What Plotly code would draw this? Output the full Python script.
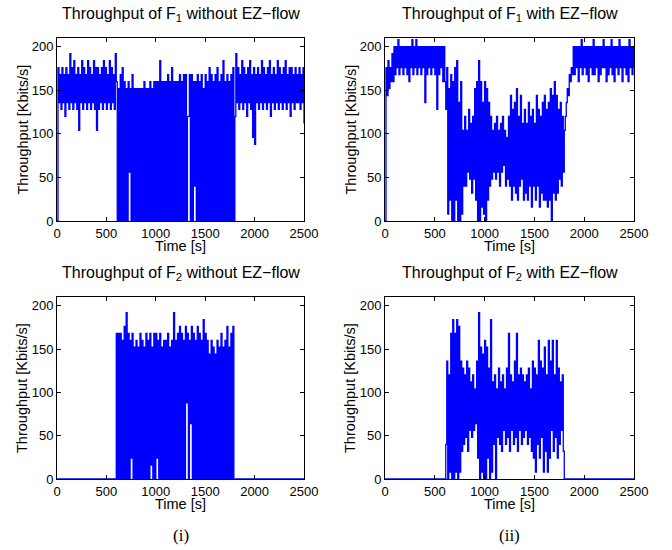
import plotly.graph_objects as go

# time axis (s), one sample every 10 s
time_s = list(range(0, 2501, 10))

f1_without = [
    0, 176, 136, 168, 128, 176, 136, 168, 120, 176,
    136, 168, 128, 192, 136, 176, 128, 184, 136, 168,
    128, 176, 104, 168, 136, 184, 128, 176, 136, 168,
    128, 184, 136, 176, 128, 168, 136, 184, 128, 176,
    104, 176, 128, 168, 136, 176, 128, 184, 136, 176,
    128, 168, 136, 184, 128, 176, 136, 168, 128, 192,
    160, 0, 152, 0, 168, 0, 176, 0, 160, 0,
    152, 0, 160, 56, 152, 0, 168, 0, 152, 0,
    152, 0, 152, 0, 152, 0, 152, 0, 160, 0,
    152, 0, 152, 0, 160, 0, 152, 0, 160, 0,
    160, 0, 160, 0, 184, 0, 160, 0, 160, 0,
    160, 0, 168, 0, 160, 0, 176, 0, 160, 0,
    160, 0, 160, 0, 168, 0, 160, 0, 168, 0,
    168, 0, 120, 120, 168, 0, 168, 0, 160, 40,
    160, 0, 168, 0, 160, 0, 168, 0, 152, 0,
    168, 0, 160, 0, 176, 0, 168, 0, 160, 0,
    168, 0, 176, 0, 160, 0, 168, 0, 184, 0,
    160, 0, 168, 0, 160, 0, 168, 0, 176, 0,
    120, 192, 136, 176, 128, 168, 136, 184, 128, 176,
    136, 168, 120, 176, 136, 184, 128, 168, 96, 176,
    88, 168, 136, 176, 128, 168, 136, 184, 128, 176,
    136, 168, 128, 176, 136, 184, 120, 168, 136, 176,
    128, 168, 136, 184, 128, 176, 136, 168, 128, 176,
    136, 184, 128, 168, 136, 176, 120, 176, 136, 168,
    128, 176, 136, 168, 136, 176, 128, 168, 136, 176,
    112,
]

f1_with = [
    0, 176, 144, 184, 152, 176, 160, 192, 160, 200,
    168, 200, 176, 208, 168, 200, 176, 200, 168, 200,
    176, 200, 168, 200, 160, 200, 176, 208, 168, 200,
    176, 208, 168, 200, 176, 200, 168, 200, 176, 200,
    136, 200, 168, 200, 176, 200, 168, 200, 176, 200,
    168, 200, 128, 200, 168, 200, 176, 200, 160, 200,
    160, 128, 176, 8, 152, 24, 168, 0, 160, 0,
    176, 24, 184, 0, 136, 0, 160, 8, 104, 40,
    120, 40, 104, 56, 128, 48, 112, 32, 120, 48,
    152, 24, 160, 0, 184, 0, 160, 16, 136, 8,
    160, 0, 152, 24, 136, 40, 120, 48, 104, 56,
    112, 48, 120, 56, 104, 40, 112, 56, 120, 64,
    104, 40, 96, 48, 120, 40, 144, 24, 128, 40,
    136, 32, 152, 24, 120, 40, 144, 48, 112, 24,
    128, 32, 112, 24, 136, 40, 120, 16, 128, 40,
    112, 24, 144, 40, 128, 16, 120, 32, 136, 24,
    144, 24, 128, 16, 136, 24, 152, 0, 144, 32,
    160, 24, 144, 32, 128, 48, 136, 40, 120, 56,
    104, 120, 136, 152, 144, 168, 160, 176, 168, 200,
    168, 200, 176, 200, 160, 200, 176, 208, 168, 200,
    176, 200, 168, 200, 160, 200, 176, 200, 168, 208,
    168, 200, 176, 200, 160, 200, 168, 200, 176, 208,
    176, 200, 160, 200, 168, 200, 176, 208, 168, 200,
    160, 200, 176, 200, 168, 208, 176, 200, 160, 200,
    176, 200, 168, 200, 160, 208, 176, 200, 168, 200,
    176,
]

f2_without = [
    0, 0, 0, 0, 0, 0, 0, 0, 0, 0,
    0, 0, 0, 0, 0, 0, 0, 0, 0, 0,
    0, 0, 0, 0, 0, 0, 0, 0, 0, 0,
    0, 0, 0, 0, 0, 0, 0, 0, 0, 0,
    0, 0, 0, 0, 0, 0, 0, 0, 0, 0,
    0, 0, 0, 0, 0, 0, 0, 0, 0, 0,
    168, 0, 168, 0, 168, 0, 160, 0, 176, 0,
    192, 0, 168, 0, 160, 24, 168, 0, 152, 0,
    160, 0, 152, 0, 168, 0, 160, 0, 152, 0,
    168, 0, 160, 0, 168, 16, 152, 0, 168, 0,
    168, 24, 160, 0, 168, 0, 152, 0, 160, 0,
    160, 0, 168, 0, 152, 0, 160, 0, 192, 0,
    160, 0, 168, 0, 176, 0, 168, 0, 160, 0,
    176, 88, 168, 0, 160, 64, 176, 0, 168, 0,
    160, 0, 176, 0, 168, 0, 160, 0, 184, 0,
    168, 0, 160, 0, 144, 0, 160, 0, 152, 0,
    144, 0, 160, 0, 152, 0, 168, 0, 152, 0,
    160, 0, 176, 0, 152, 0, 168, 0, 176, 0,
    0, 0, 0, 0, 0, 0, 0, 0, 0, 0,
    0, 0, 0, 0, 0, 0, 0, 0, 0, 0,
    0, 0, 0, 0, 0, 0, 0, 0, 0, 0,
    0, 0, 0, 0, 0, 0, 0, 0, 0, 0,
    0, 0, 0, 0, 0, 0, 0, 0, 0, 0,
    0, 0, 0, 0, 0, 0, 0, 0, 0, 0,
    0, 0, 0, 0, 0, 0, 0, 0, 0, 0,
    0,
]

f2_with = [
    0, 0, 0, 0, 0, 0, 0, 0, 0, 0,
    0, 0, 0, 0, 0, 0, 0, 0, 0, 0,
    0, 0, 0, 0, 0, 0, 0, 0, 0, 0,
    0, 0, 0, 0, 0, 0, 0, 0, 0, 0,
    0, 0, 0, 0, 0, 0, 0, 0, 0, 0,
    0, 0, 0, 0, 0, 0, 0, 0, 0, 0,
    0, 40, 136, 0, 120, 8, 168, 0, 184, 0,
    168, 8, 184, 0, 176, 8, 136, 32, 128, 40,
    120, 48, 136, 32, 128, 56, 112, 48, 120, 56,
    104, 64, 136, 24, 192, 0, 152, 8, 144, 0,
    160, 0, 152, 24, 128, 0, 184, 8, 112, 40,
    120, 0, 104, 48, 128, 40, 112, 32, 120, 56,
    104, 40, 128, 48, 168, 32, 120, 56, 112, 40,
    136, 48, 168, 32, 120, 56, 128, 40, 120, 48,
    112, 56, 120, 40, 128, 48, 104, 32, 136, 24,
    128, 8, 120, 40, 160, 24, 136, 48, 128, 8,
    152, 32, 120, 8, 160, 24, 136, 56, 160, 32,
    120, 48, 160, 24, 128, 40, 112, 56, 120, 32,
    0, 0, 0, 0, 0, 0, 0, 0, 0, 0,
    0, 0, 0, 0, 0, 0, 0, 0, 0, 0,
    0, 0, 0, 0, 0, 0, 0, 0, 0, 0,
    0, 0, 0, 0, 0, 0, 0, 0, 0, 0,
    0, 0, 0, 0, 0, 0, 0, 0, 0, 0,
    0, 0, 0, 0, 0, 0, 0, 0, 0, 0,
    0, 0, 0, 0, 0, 0, 0, 0, 0, 0,
    0,
]

titles = [
    "Throughput of F<sub>1</sub> without EZ\u2212flow",
    "Throughput of F<sub>1</sub> with EZ\u2212flow",
    "Throughput of F<sub>2</sub> without EZ\u2212flow",
    "Throughput of F<sub>2</sub> with EZ\u2212flow",
]
series = [f1_without, f1_with, f2_without, f2_with]
x_ticks = [0, 500, 1000, 1500, 2000, 2500]
y_ticks = [0, 50, 100, 150, 200]
x_title = "Time [s]"
y_title = "Throughput [Kbits/s]"
panel_labels = ["(i)", "(ii)"]

W, H = 672, 550
# panel pixel boxes: (x0, x1, y0_top, y1_bottom)
boxes = [(57, 304, 38, 221), (385, 634, 38, 221),
         (57, 304, 297, 479), (385, 634, 297, 479)]

font = "Liberation Sans, Arial, Helvetica, sans-serif"


def px(xp, yp):
    return dict(x=xp / W, y=1 - yp / H, xref="paper", yref="paper", showarrow=False)


fig = go.Figure()
for i, (ys, box) in enumerate(zip(series, boxes)):
    n = "" if i == 0 else str(i + 1)
    fig.add_trace(go.Scatter(x=time_s, y=ys, mode="lines",
                             line=dict(color="#0000ff", width=1.3, shape="hv"),
                             xaxis="x" + n, yaxis="y" + n, showlegend=False,
                             hoverinfo="skip"))
    x0, x1, yt, yb = box
    axcommon = dict(showgrid=False, zeroline=False, showline=True, linecolor="black",
                    linewidth=1, mirror="ticks", ticks="inside", ticklen=4,
                    tickcolor="black", automargin=False,
                    tickfont=dict(family=font, size=13, color="black"))
    fig.layout["xaxis" + n] = dict(domain=[x0 / W, x1 / W], range=[0, 2500],
                                   tickvals=x_ticks, anchor="y" + n, **axcommon)
    fig.layout["yaxis" + n] = dict(domain=[1 - yb / H, 1 - yt / H], range=[0, 210],
                                   tickvals=y_ticks, anchor="x" + n, **axcommon)
    cx = (x0 + x1) / 2
    fig.add_annotation(text=titles[i], **px(cx, yt - 24), xanchor="center",
                       yanchor="middle", font=dict(family=font, size=16, color="black"))
    fig.add_annotation(text=x_title, **px(cx, yb + 25), xanchor="center",
                       yanchor="middle", font=dict(family=font, size=14.5, color="black"))
    fig.add_annotation(text=y_title, **px(x0 - 35, (yt + yb) / 2), textangle=-90,
                       xanchor="center", yanchor="middle",
                       font=dict(family=font, size=14.5, color="black"))

for j, lab in enumerate(panel_labels):
    x0, x1 = boxes[2 + j][0], boxes[2 + j][1]
    fig.add_annotation(text=lab, **px((x0 + x1) / 2, 535), xanchor="center",
                       yanchor="middle",
                       font=dict(family="Liberation Serif, Times New Roman, serif",
                                 size=17, color="black"))

fig.update_layout(width=W, height=H, margin=dict(l=0, r=0, t=0, b=0),
                  paper_bgcolor="white", plot_bgcolor="white", hovermode=False)
# remove the default 8 px page margin so the figure sits at the window origin
fig.write_html("out.html", config={"displayModeBar": False},
               post_script="document.body.style.margin='0';"
                           "document.body.style.overflow='hidden';")
